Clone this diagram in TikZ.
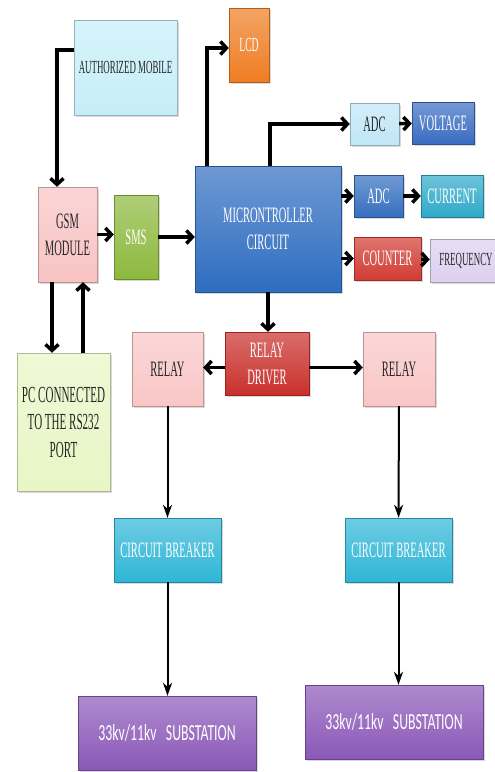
\documentclass[tikz,border=0pt]{standalone}
\usepackage{fontspec}
\usepackage{tikz}
\usetikzlibrary{positioning,arrows.meta,shadows}
\newfontfamily\boxfont[FakeStretch=0.48]{Liberation Serif}
\newfontfamily\subfont[FakeStretch=0.6]{Carlito}
\definecolor{mobilec}{HTML}{C6EEF8}
\definecolor{lcdc}{HTML}{EF7D22}
\definecolor{adclc}{HTML}{C0E6F7}
\definecolor{voltc}{HTML}{3A6CC2}
\definecolor{gsmc}{HTML}{F8C3C3}
\definecolor{smsc}{HTML}{8DB93E}
\definecolor{mcuc}{HTML}{2F6DC0}
\definecolor{adcdc}{HTML}{356FBF}
\definecolor{currc}{HTML}{2FA9C9}
\definecolor{cntc}{HTML}{D23B33}
\definecolor{freqc}{HTML}{DDD0F0}
\definecolor{drvc}{HTML}{C9302C}
\definecolor{relayc}{HTML}{F9C6C6}
\definecolor{pcc}{HTML}{E8F6C4}
\definecolor{cbc}{HTML}{2FB6D6}
\definecolor{subc}{HTML}{8B58B8}

\begin{document}
\begin{tikzpicture}[
    x=1pt, y=-1pt,
    blk/.style={rectangle, draw=#1!75!black, line width=0.4pt, top color=#1!70!white, bottom color=#1,
        inner sep=1pt, align=center, font=\boxfont\fontsize{22}{27}\selectfont,
        drop shadow={shadow xshift=1.5pt, shadow yshift=-1.5pt, opacity=0.3}},
    light/.style={text=black!85},
    dark/.style={text=white},
    arrow/.style={-{Straight Barb[length=6pt,width=13pt]}, line width=3.5pt},
    thinarrow/.style={-{Stealth[length=13pt,width=9pt,inset=4pt]}, line width=2pt}
]
\useasboundingbox (0,0) rectangle (495,772);

% top row
\node[blk=mobilec, light, minimum width=103pt, minimum height=95pt, font=\boxfont\fontsize{18.5}{22}\selectfont] (mobile) at (125.5,67.5) {AUTHORIZED MOBILE};
\node[blk=lcdc, dark, minimum width=40pt, minimum height=74pt, font=\boxfont\fontsize{20}{22}\selectfont] (lcd) at (249,45) {LCD};
\node[blk=adclc, light, minimum width=49pt, minimum height=42pt] (adcv) at (374.5,124) {ADC};
\node[blk=voltc, dark, minimum width=62pt, minimum height=42pt] (volt) at (443,123) {VOLTAGE};

% middle row
\node[blk=gsmc, light, minimum width=59pt, minimum height=95pt] (gsm) at (67.5,234.5) {GSM\\MODULE};
\node[blk=smsc, dark, minimum width=44pt, minimum height=84pt] (sms) at (136,237) {SMS};
\node[blk=mcuc, dark, minimum width=146pt, minimum height=126pt] (mcu) at (268,229) {MICRONTROLLER\\CIRCUIT};
\node[blk=adcdc, dark, minimum width=49pt, minimum height=42pt] (adci) at (378.5,196) {ADC};
\node[blk=currc, dark, minimum width=62pt, minimum height=42pt] (curr) at (452,196) {CURRENT};
\node[blk=cntc, dark, minimum width=67pt, minimum height=43pt] (cnt) at (387.5,258.5) {COUNTER};
\node[blk=freqc, light, minimum width=72pt, minimum height=43pt, font=\boxfont\fontsize{18.5}{22}\selectfont] (freq) at (466,260.5) {FREQUENCY};

% relays
\node[blk=drvc, dark, minimum width=84pt, minimum height=63pt] (drv) at (267,363.5) {RELAY\\DRIVER};
\node[blk=relayc, light, minimum width=71pt, minimum height=74pt] (relL) at (167.5,369) {RELAY};
\node[blk=relayc, light, minimum width=72pt, minimum height=74pt] (relR) at (399,369) {RELAY};
\node[blk=pcc, light, minimum width=93pt, minimum height=138pt, font=\boxfont\fontsize{23}{27.5}\selectfont] (pc) at (63.5,422) {PC CONNECTED\\TO THE RS232\\PORT};

% breakers and substations
\node[blk=cbc, dark, minimum width=107pt, minimum height=64pt] (cbL) at (167.5,550) {CIRCUIT BREAKER};
\node[blk=cbc, dark, minimum width=107pt, minimum height=64pt] (cbR) at (398.5,550) {CIRCUIT BREAKER};
\node[blk=subc, dark, minimum width=178pt, minimum height=74pt, font=\subfont\fontsize{23}{25}\selectfont] (subL) at (167,733) {33kv/11kv\ \ \ SUBSTATION};
\node[blk=subc, dark, minimum width=178pt, minimum height=74pt, font=\subfont\fontsize{23}{25}\selectfont] (subR) at (394,722) {33kv/11kv\ \ \ SUBSTATION};

% connectors
\draw[arrow] ([yshift=17.5pt]mobile.west) -| ([xshift=-10.5pt]gsm.north);
\draw[arrow] ([xshift=-15.5pt]gsm.south) -- ([xshift=-15.5pt]gsm.south |- pc.north);
\draw[arrow] ([xshift=15.5pt]gsm.south |- pc.north) -- ([xshift=15.5pt]gsm.south);
\draw[arrow] (gsm.east) -- (gsm.east -| sms.west);
\draw[arrow] (sms.east) -- (sms.east -| mcu.west);
\draw[arrow] ([xshift=-61pt]mcu.north) |- ([yshift=-3pt]lcd.west);
\draw[arrow] ([xshift=2pt]mcu.north) |- (adcv.west);
\draw[arrow] (adcv) -- (volt);
\draw[arrow] (mcu.east |- adci.west) -- (adci.west);
\draw[arrow] (adci) -- (curr);
\draw[arrow] (mcu.east |- cnt.west) -- (cnt.west);
\draw[arrow] (cnt) -- (freq);
\draw[arrow] (mcu.south) -- (mcu.south |- drv.north);
\draw[arrow] ([yshift=-4pt]drv.west) -- ([yshift=-4pt]drv.west -| relL.east);
\draw[arrow] ([yshift=-4pt]drv.east) -- ([yshift=-4pt]drv.east -| relR.west);
\draw[thinarrow] (relL) -- (cbL);
\draw[thinarrow] (cbL) -- (cbL |- subL.north);
\draw[thinarrow] (relR) -- (cbR);
\draw[thinarrow] (cbR) -- (cbR |- subR.north);
\end{tikzpicture}
\end{document}
